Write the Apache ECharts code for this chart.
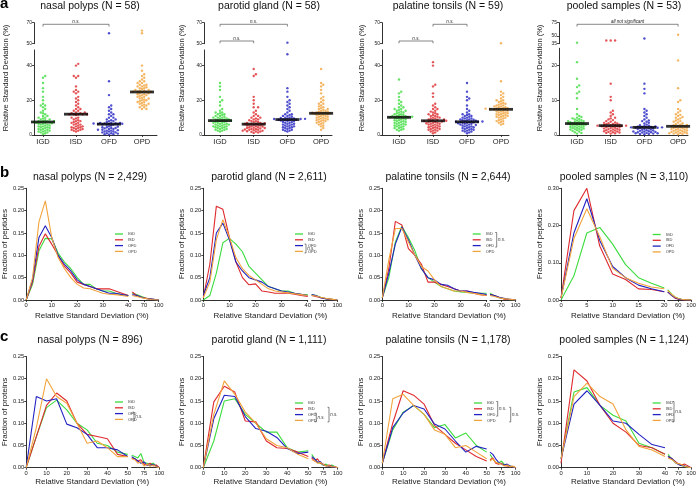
<!DOCTYPE html>
<html><head><meta charset="utf-8">
<script src="https://cdn.jsdelivr.net/npm/echarts@6/dist/echarts.min.js"></script>
<style>html,body{margin:0;padding:0;background:#fff}#c{width:699px;height:488px}</style>
</head><body><div id="c"></div>
<script>
// ---------------- DATA ----------------
const cats = ['IGD','ISD','OFD','OPD'];
const titlesA = ['nasal polyps (N = 58)','parotid gland (N = 58)','palatine tonsils (N = 59)','pooled samples (N = 53)'];
const titlesB = ['nasal polyps (N = 2,429)','parotid gland (N = 2,611)','palatine tonsils (N = 2,644)','pooled samples (N = 3,110)'];
const titlesC = ['nasal polyps (N = 896)','parotid gland (N = 1,111)','palatine tonsils (N = 1,178)','pooled samples (N = 1,124)'];
const yNameA = 'Relative Standard Deviation (%)';
const xNameBC = 'Relative Standard Deviation (%)';
const yNameB = 'Fraction of peptides';
const yNameC = 'Fraction of proteins';

// Row a: relative standard deviation per protein (%)
const a1_IGD = [34,33,30,27,25,22,20,18,17,17,16,15,14,13,12.5,12,11,11,10,10,9.5,9,9,8.5,8,8,8,7.8,7.5,7.5,7.3,7,7,6.8,6.5,6.5,6,6,5.5,5.5,5,5,4.5,4.5,4,4,3.5,3.5,3,3,2.5,2.5,2,2,1.5,1.5,1,0.5];
const a1_ISD = [41,40,34,34,33,28,26,25,25,24,22,21,20,19,18,17,16,15,15,14,14,13,13,12.5,12.5,12,12,12,12,12,11.5,10,10,9.5,9,8.5,8,8,7.5,7,7,6.5,6,6,5.5,5,5,4.5,4.5,4,4,3.5,3.5,3,3,2.5,2.5,2];
const a1_OFD = [60,31,23,17,16,15,14,13,12,12,11,10,10,9,9,8.5,8,8,7.5,7,7,7,6.8,6.7,6.6,6.5,6.5,6.4,6.3,6.2,6,6,5.5,5,4.8,4.5,4.5,4,4,3.8,3.5,3.5,3,3,2.8,2.5,2.5,2,2,2,1.5,1.5,1,1,0.8,0.5,0.5,0.3];
const a1_OPD = [62.5,60,40,37,35,34,33,32,31,31,30,30,29,29,28.5,28,28,27.5,27,27,26.5,26,26,25.5,25.5,25,25,25,24.8,24.8,24,24,23.5,23.5,23,23,22.5,22,22,21.5,21,21,20.5,20,20,19.5,19,19,18.5,18,18,17.5,17,17,16,16,15,15];
const a2_IGD = [30,28,26,22,20,19,17,15,14,13,13,12.5,12,12,11.5,11,11,10.5,10,10,10,9.5,9.5,9,9,9,8.5,8.5,8.3,8.3,8,8,7.5,7.5,7,7,7,6.5,6.5,6,6,6,5.5,5.5,5,5,5,4.5,4.5,4,4,3.5,3.5,3,3,2.5,2.5,2];
const a2_ISD = [38,35,34,22,20,18,16,16,14,13,12,11,11,10,10,9.5,9,9,8.5,8,8,7.5,7.5,7,7,6.8,6.5,6.5,6.3,6.2,6,6,5.8,5.5,5.5,5,5,4.8,4.5,4.5,4.2,4,4,3.8,3.5,3.5,3.2,3,3,2.8,2.5,2.5,2.2,2,2,1.8,1.5,1.2];
const a2_OFD = [51,46.5,27,25,22,20,19,18,17,16,15,14,13,12,12,11.5,11,11,10.5,10,10,9.8,9.5,9.5,9.3,9.2,9.2,9,9,8.8,8.8,8.5,8.5,8.3,8,8,7.5,7.5,7,7,6.5,6.5,6,6,5.5,5.5,5,5,4.5,4.5,4,4,3.5,3,3,2.5,2.5,2];
const a2_OPD = [38,30,29,28,26,24,22,21,20,19,18,18,17,16.5,16,15.5,15,15,14.5,14,14,13.5,13.5,13,13,13,12.8,12.5,12.5,12.5,12.3,12,12,11.5,11.5,11,11,10.5,10.5,10,10,9.5,9.5,9,9,8.5,8.5,8,8,7.5,7,7,6.5,6,5.5,5,4,3];
const a3_IGD = [32,25,24,22,20,19,18,17,16,16,15,15,14.5,14,14,13.5,13,13,12.5,12,12,11.5,11.5,11,11,10.8,10.5,10.5,10.3,10.2,10,10,9.5,9.5,9,9,8.5,8.5,8,8,7.5,7.5,7,7,6.5,6.5,6,6,5.5,5.5,5,5,4.5,4,4,3.5,3,3,2.5];
const a3_ISD = [42,40,29,28,24,22,18,17,16,15,15,14,13.5,13,12.5,12,12,11.5,11,11,10.5,10,10,9.5,9.5,9,9,8.8,8.5,8.2,8,8,7.8,7.5,7.5,7,7,6.8,6.5,6.5,6,6,5.5,5.5,5,5,4.5,4.5,4,4,3.5,3.5,3,3,2.5,2.5,2,1.5,1];
const a3_OFD = [30,25,22,21,20,17,15,14,13,12,12,11.5,11,11,10.5,10,10,9.5,9.5,9,9,8.8,8.5,8.5,8.2,8,8,7.8,7.7,7.6,7.5,7.5,7.3,7,7,6.8,6.5,6.5,6,6,5.8,5.5,5.5,5,5,4.5,4.5,4,4,3.5,3.5,3,3,2.5,2.5,2,2,1.5,1];
const a3_OPD = [50.5,31,25,24,23,22,21,20,20,19.5,19,18.5,18,18,17.5,17,17,16.5,16.5,16,16,15.5,15.5,15.3,15.2,15,15,15,14.8,14.8,14.5,14.5,14,14,13.5,13.5,13,13,12.5,12.5,12,12,11.5,11.5,11,11,10.5,10.5,10,10,9.5,9,8.5,8,8,7.5,7,6.5,6];
const a4_IGD = [37,21,16.2,14.3,13.8,12.5,12,10.6,7.5,6,5.5,5.2,5,4.8,4.6,4.5,4.3,4.2,4,4,3.9,3.8,3.7,3.6,3.5,3.4,3.3,3.3,3.2,3.1,3,3,2.9,2.8,2.7,2.6,2.5,2.4,2.3,2.2,2.1,2,1.9,1.8,1.7,1.6,1.5,1.4,1.2,1,0.8,0.6,0.4];
const a4_ISD = [41,41,41,14.8,11,10,7,6.5,6,5.5,5,4.8,4.5,4.3,4,3.8,3.6,3.5,3.4,3.3,3.2,3.1,3,2.9,2.8,2.8,2.7,2.7,2.6,2.6,2.5,2.5,2.4,2.3,2.2,2.1,2,1.9,1.8,1.7,1.6,1.5,1.4,1.3,1.2,1.1,1,0.9,0.8,0.7,0.6,0.5,0.4];
const a4_OFD = [45,14.8,13.3,12,7.5,7,6.5,6,5.5,5,4.5,4.2,4,3.8,3.5,3.3,3,2.8,2.7,2.6,2.5,2.4,2.3,2.3,2.2,2.2,2.2,2.1,2.1,2,2,1.9,1.8,1.7,1.6,1.5,1.4,1.3,1.2,1.1,1,1,0.9,0.8,0.8,0.7,0.6,0.5,0.5,0.4,0.3,0.3,0.2];
const a4_OPD = [52,21.5,13.5,10,9.5,7.5,7,6.5,6,5.8,5.5,5.2,5,4.8,4.5,4.2,4,3.8,3.6,3.4,3.2,3,2.9,2.8,2.7,2.6,2.5,2.5,2.4,2.3,2.2,2.1,2,1.9,1.8,1.7,1.6,1.5,1.4,1.3,1.2,1.1,1,0.9,0.8,0.7,0.6,0.6,0.5,0.5,0.4,0.3,0.2];
// row a axis extents and tick labels
const aLowMax = [49,49,49,25];
const aUpRange = [[50,70],[50,70],[50,70],[35,75]];
const aTicksLow = [[0,20,40],[0,20,40],[0,20,40],[0,10,20]];
const aTicksUp = [[50,70],[50,70],[50,70],[35,50,75]];
// significance brackets [from, to, level(hi/lo), text]
const aSig = [
  [[0,2,'hi','n.s.']],
  [[0,2,'hi','n.s.'],[0,1,'lo','n.s.']],
  [[0,1,'lo','n.s.'],[1,2,'hi','n.s.']],
  [[0,3,'hi','all not significant']]
];

// Row b: fraction of peptides vs RSD (%)
const xB  = [0,2.5,5,7.5,10,12.5,15,17.5,20,22.5,25,27.5,30,32.5,35,37.5,40];
const xB4 = [0,2.5,5,7.5,10,12.5,15,17.5,20];
const xBR  = [46,55,65,75,85,100];
const xB4R = [27,40,50,60,70,80,100];
const b1_IGD = [0,0.035,0.11,0.138,0.137,0.105,0.085,0.07,0.05,0.035,0.035,0.025,0.02,0.02,0.015,0.012,0.01];
const b1_ISD = [0,0.04,0.12,0.148,0.125,0.1,0.075,0.06,0.04,0.035,0.03,0.025,0.025,0.025,0.02,0.015,0.01];
const b1_OFD = [0,0.045,0.14,0.166,0.14,0.1,0.08,0.065,0.045,0.035,0.03,0.025,0.02,0.015,0.015,0.012,0.01];
const b1_OPD = [0,0.05,0.175,0.222,0.14,0.095,0.07,0.05,0.035,0.027,0.025,0.02,0.015,0.013,0.012,0.01,0.008];
const b2_IGD = [0,0.01,0.06,0.128,0.138,0.125,0.108,0.075,0.06,0.045,0.03,0.025,0.02,0.02,0.015,0.013,0.012];
const b2_ISD = [0.005,0.08,0.21,0.203,0.14,0.085,0.05,0.034,0.036,0.02,0.018,0.015,0.015,0.015,0.013,0.01,0.008];
const b2_OFD = [0.01,0.05,0.15,0.172,0.135,0.085,0.065,0.05,0.045,0.04,0.03,0.025,0.02,0.018,0.015,0.013,0.01];
const b2_OPD = [0.005,0.04,0.135,0.18,0.14,0.095,0.07,0.055,0.045,0.035,0.025,0.02,0.018,0.016,0.014,0.012,0.01];
const b3_IGD = [0.005,0.05,0.13,0.165,0.14,0.11,0.07,0.05,0.04,0.03,0.025,0.02,0.018,0.017,0.015,0.015,0.015];
const b3_ISD = [0.005,0.07,0.176,0.168,0.115,0.1,0.08,0.04,0.04,0.035,0.03,0.025,0.02,0.02,0.015,0.012,0.01];
const b3_OFD = [0.005,0.06,0.125,0.163,0.135,0.1,0.07,0.05,0.045,0.035,0.033,0.025,0.02,0.02,0.017,0.015,0.012];
const b3_OPD = [0.005,0.09,0.16,0.16,0.13,0.1,0.075,0.065,0.045,0.03,0.025,0.02,0.02,0.017,0.015,0.012,0.01];
const b4_IGD = [0,0.065,0.18,0.195,0.15,0.095,0.06,0.045,0.032];
const b4_ISD = [0.005,0.24,0.3,0.145,0.07,0.055,0.03,0.028,0.022];
const b4_OFD = [0.005,0.18,0.272,0.16,0.09,0.06,0.04,0.03,0.022];
const b4_OPD = [0.005,0.165,0.245,0.17,0.085,0.06,0.045,0.035,0.03];
const b1r_IGD = [0.015,0.012,0.008,0.004,0.002,0];
const b1r_ISD = [0.018,0.01,0.006,0.004,0.002,0];
const b1r_OFD = [0.012,0.01,0.006,0.003,0.002,0];
const b1r_OPD = [0.01,0.008,0.005,0.003,0.001,0];
const b2r_IGD = [0.012,0.01,0.006,0.003,0.002,0];
const b2r_ISD = [0.01,0.008,0.005,0.003,0.002,0];
const b2r_OFD = [0.012,0.01,0.005,0.003,0.001,0];
const b2r_OPD = [0.01,0.009,0.006,0.004,0.002,0];
const b3r_IGD = [0.015,0.01,0.005,0.003,0.001,0];
const b3r_ISD = [0.012,0.01,0.006,0.002,0.001,0];
const b3r_OFD = [0.012,0.01,0.006,0.004,0.002,0];
const b3r_OPD = [0.01,0.008,0.005,0.003,0.002,0];
const b4r_IGD = [0.028,0.015,0.008,0.004,0.002,0.001,0];
const b4r_ISD = [0.022,0.012,0.005,0.002,0.001,0,0];
const b4r_OFD = [0.022,0.012,0.006,0.003,0.001,0,0];
const b4r_OPD = [0.026,0.014,0.008,0.004,0.002,0.001,0];

// Row c: fraction of proteins vs RSD (%)
const xC  = [0,5,10,15,20,25,30,35,40,45,50];
const xC4 = [0,5,10,15,20,25,30,35,40];
const xCR  = [55,60,65,70,75,80,85,90,95,100];
const xC4R = [45,55,65,75,85,100];
const c1_IGD = [0,0.07,0.135,0.152,0.13,0.1,0.085,0.055,0.05,0.035,0.03];
const c1_ISD = [0,0.07,0.14,0.168,0.15,0.1,0.075,0.07,0.065,0.03,0.025];
const c1_OFD = [0,0.16,0.15,0.155,0.098,0.09,0.075,0.045,0.045,0.04,0.025];
const c1_OPD = [0,0.09,0.2,0.16,0.145,0.1,0.055,0.06,0.045,0.025,0.025];
const c2_IGD = [0,0.06,0.15,0.155,0.12,0.1,0.08,0.08,0.045,0.035,0.038];
const c2_ISD = [0,0.148,0.183,0.17,0.105,0.103,0.06,0.045,0.043,0.035,0.025];
const c2_OFD = [0,0.11,0.163,0.16,0.115,0.088,0.082,0.068,0.043,0.032,0.035];
const c2_OPD = [0,0.12,0.195,0.165,0.125,0.1,0.065,0.05,0.045,0.03,0.02];
const c3_IGD = [0.01,0.085,0.125,0.14,0.12,0.09,0.097,0.067,0.078,0.05,0.035];
const c3_ISD = [0.01,0.1,0.173,0.163,0.143,0.095,0.075,0.055,0.04,0.025,0.015];
const c3_OFD = [0.01,0.09,0.123,0.14,0.132,0.098,0.087,0.06,0.035,0.048,0.042];
const c3_OPD = [0.01,0.155,0.165,0.14,0.12,0.085,0.075,0.045,0.05,0.035,0.02];
const c4_IGD = [0.02,0.17,0.18,0.14,0.118,0.105,0.055,0.045,0.03];
const c4_ISD = [0.01,0.22,0.195,0.14,0.1,0.08,0.05,0.045,0.03];
const c4_OFD = [0.02,0.143,0.173,0.14,0.105,0.1,0.075,0.052,0.045];
const c4_OPD = [0.02,0.16,0.19,0.16,0.143,0.085,0.048,0.04,0.025];
const c1r_IGD = [0.028,0.025,0.022,0.032,0.012,0.01,0.008,0.01,0.004,0];
const c1r_ISD = [0.022,0.02,0.015,0.018,0.008,0.006,0.01,0.004,0.006,0];
const c1r_OFD = [0.025,0.02,0.015,0.01,0.013,0.006,0.005,0.008,0.003,0];
const c1r_OPD = [0.02,0.018,0.01,0.014,0.004,0.008,0.003,0.006,0.002,0];
const c2r_IGD = [0.03,0.02,0.012,0.01,0.006,0.008,0.004,0.006,0.002,0];
const c2r_ISD = [0.022,0.015,0.02,0.01,0.008,0.004,0.006,0.003,0.002,0];
const c2r_OFD = [0.025,0.02,0.012,0.014,0.006,0.005,0.003,0.003,0.001,0];
const c2r_OPD = [0.018,0.016,0.01,0.012,0.007,0.004,0.004,0.002,0.002,0];
const c3r_IGD = [0.03,0.02,0.012,0.01,0.015,0.008,0.005,0.004,0.002,0];
const c3r_ISD = [0.018,0.022,0.01,0.008,0.01,0.005,0.004,0.003,0.002,0];
const c3r_OFD = [0.035,0.03,0.02,0.012,0.008,0.006,0.008,0.004,0.002,0];
const c3r_OPD = [0.015,0.02,0.012,0.01,0.008,0.004,0.006,0.002,0.004,0];
const c4r_IGD = [0.03,0.018,0.01,0.006,0.003,0];
const c4r_ISD = [0.025,0.02,0.012,0.006,0.008,0];
const c4r_OFD = [0.025,0.02,0.01,0.005,0.004,0];
const c4r_OPD = [0.022,0.018,0.01,0.008,0.003,0];

// axis extents & tick labels for rows b/c
const bLeftMax = [40,40,40,20], bLeftInt = [10,10,10,5];
const bRightRange = [[46,100],[46,100],[46,100],[27,100]];
const bRightTicks = [[70,100],[70,100],[70,100],[60,100]];
const bYMax = [0.25,0.25,0.25,0.30], bYInt = [0.05,0.05,0.05,0.10];
const cLeftMax = [50,50,50,40], cLeftInt = [10,10,10,10];
const cRightRange = [[55,100],[55,100],[55,100],[45,100]];
const cRightTicks = [[75,100],[75,100],[75,100],[70,100]];
const cYMax = [0.25,0.25,0.25,0.25], cYInt = [0.05,0.05,0.05,0.05];
// legend brackets: [fromRow, toRow]
const bBr = [[], [[2,3]], [[0,2]], []];
const cBr = [[[2,3]], [[2,3],[1,3]], [[0,2],[1,3]], [[0,3]]];

// ---------------- LAYOUT / STYLE ----------------
const colors = {IGD:'#3ddc3d', ISD:'#df2a2e', OFD:'#2222c2', OPD:'#f2a43c'};
const FONT = 'Liberation Sans, Arial, Helvetica, sans-serif';
const INK = '#1a1a1a';
const layA = [{ax:34,c0:43,sp:33,end:157},{ax:204,c0:220,sp:33.7,end:332},{ax:382,c0:399,sp:34,end:509},{ax:559,c0:577,sp:33.7,end:688}];
const aPpu = [1.735,1.735,1.735,3.47];
const A_BASE = 135, A_UPTOP = 22.7, A_UPH = 21;
const layB = [{L:25,Lw:103.3,R:132.3,Rw:26.4},{L:203.3,Lw:104.4,R:311.7,Rw:25.6},{L:382.3,Lw:104.4,R:490,Rw:25.7},{L:561,Lw:103.3,R:667.7,Rw:27.3}];
const layC = [{L:25,Lw:102.7,R:131.7,Rw:27.6},{L:203.3,Lw:105,R:311.7,Rw:26},{L:382.3,Lw:104.4,R:490,Rw:25.7},{L:561,Lw:104,R:668,Rw:27}];
const titleCx = [90,269,448,624];

const grids=[], xAxes=[], yAxes=[], series=[], graphics=[], titles=[], legends=[];
function addGrid(g){ grids.push(Object.assign({containLabel:false}, g)); return grids.length-1; }
const axisLine = () => ({show:true, onZero:false, lineStyle:{color:INK, width:0.9}});
const tickSt = (vals) => Object.assign({show:true, length:2, inside:false, lineStyle:{color:INK, width:0.8}}, vals?{customValues:vals}:{});
const lblSt = (size, extra) => Object.assign({color:INK, fontFamily:FONT, fontSize:size, margin:2}, extra||{});
function median(a){const s=[...a].sort((x,y)=>x-y);const n=s.length;return n%2?s[(n-1)/2]:(s[n/2-1]+s[n/2])/2;}
function swarm(vals, ppu, d){
  const order = vals.map((v,i)=>i).sort((a,b)=>vals[a]-vals[b]);
  const placed=[]; const off=vals.map(()=>0);
  for(const i of order){
    const py=vals[i]*ppu;
    for(let k=0;k<100;k++){
      const m = k===0?0:(k%2?(k+1)/2:-k/2);
      const ox = m*d*0.9;
      if(placed.every(p=>(p.ox-ox)*(p.ox-ox)+(p.py-py)*(p.py-py) >= d*d*0.9)){off[i]=ox;placed.push({ox,py});break;}
    }
  }
  return off;
}
function gtext(x,y,text,font,opts){
  graphics.push(Object.assign({type:'text', x, y, silent:true, style:{text, font, fill:INK, align:'center', verticalAlign:'middle', textAlign:'center', textVerticalAlign:'middle'}}, opts||{}));
}

// ---------- Panel letters & titles ----------
[['a',-4],['b',165],['c',329.5]].forEach(([t,top])=>titles.push({text:t,left:0,top,padding:0,textStyle:{fontSize:15,fontWeight:'bold',color:'#000',fontFamily:FONT}}));
[[titlesA,1],[titlesB,171.5],[titlesC,335]].forEach(([arr,top])=>arr.forEach((t,i)=>titles.push({text:t,left:titleCx[i],top,textAlign:'center',padding:0,textStyle:{fontSize:10.5,fontWeight:'normal',color:'#111',fontFamily:FONT}})));

// ---------- Row a ----------
const aGroups = [[a1_IGD,a1_ISD,a1_OFD,a1_OPD],[a2_IGD,a2_ISD,a2_OFD,a2_OPD],[a3_IGD,a3_ISD,a3_OFD,a3_OPD],[a4_IGD,a4_ISD,a4_OFD,a4_OPD]];
const aYNameX = [5.5,182,361.5,540];
for(let p=0;p<4;p++){
  const L=layA[p], ppu=aPpu[p];
  const xmin=-(L.c0-L.ax)/L.sp, xmax=xmin+(L.end-L.ax)/L.sp;
  const lowH=aLowMax[p]*ppu;
  const gl=addGrid({left:L.ax, top:A_BASE-lowH, width:L.end-L.ax, height:lowH});
  xAxes.push({gridIndex:gl,type:'value',min:xmin,max:xmax,axisLine:axisLine(),axisTick:tickSt([0,1,2,3]),
    axisLabel:lblSt(7.5,{customValues:[0,1,2,3],margin:3,formatter:v=>cats[Math.round(v)]}),splitLine:{show:false}});
  yAxes.push({gridIndex:gl,type:'value',min:0,max:aLowMax[p],axisLine:axisLine(),axisTick:tickSt(aTicksLow[p]),
    axisLabel:lblSt(5,{customValues:aTicksLow[p]}),splitLine:{show:false}});
  const up=aUpRange[p];
  const gu=addGrid({left:L.ax, top:A_UPTOP, width:L.end-L.ax, height:A_UPH});
  xAxes.push({gridIndex:gu,type:'value',min:xmin,max:xmax,show:false});
  yAxes.push({gridIndex:gu,type:'value',min:up[0],max:up[1],axisLine:axisLine(),axisTick:tickSt(aTicksUp[p]),
    axisLabel:lblSt(5,{customValues:aTicksUp[p]}),splitLine:{show:false}});
  const ppuUp=A_UPH/(up[1]-up[0]);
  aGroups[p].forEach((vals,g)=>{
    const lo=vals.filter(v=>v<=aLowMax[p]), hi=vals.filter(v=>v>aLowMax[p]);
    const oL=swarm(lo,ppu,2.45), oH=swarm(hi.map(v=>v-up[0]),ppuUp,2.45);
    const st={type:'scatter',symbol:'circle',symbolSize:2.4,itemStyle:{color:colors[cats[g]]},silent:true,z:2};
    series.push(Object.assign({},st,{name:cats[g]+' a'+(p+1),xAxisIndex:gl,yAxisIndex:gl,data:lo.map((v,i)=>[g+oL[i]/L.sp,v])}));
    if(hi.length) series.push(Object.assign({},st,{name:cats[g]+' a'+(p+1)+' hi',xAxisIndex:gu,yAxisIndex:gu,data:hi.map((v,i)=>[g+oH[i]/L.sp,v])}));
    series.push({type:'scatter',name:'median a'+(p+1)+cats[g],xAxisIndex:gl,yAxisIndex:gl,symbol:'rect',symbolSize:[24,2.8],itemStyle:{color:'#000'},z:5,silent:true,data:[[g,median(vals)]]});
  });
  aSig[p].forEach(([f,t,lvl,txt])=>{
    const yb = lvl==='hi'?24.3:41;
    const vb = up[1]-(yb-A_UPTOP)/A_UPH*(up[1]-up[0]);
    const vl = up[1]-(yb+2.3-A_UPTOP)/A_UPH*(up[1]-up[0]);
    series.push({type:'line',name:'sig',xAxisIndex:gu,yAxisIndex:gu,symbol:'none',clip:false,silent:true,
      lineStyle:{color:'#555',width:0.7},data:[[f,vl],[f,vb],[t,vb],[t,vl]]});
    gtext(L.ax+((f+t)/2-xmin)*L.sp, yb-2.6, txt, 'italic 4.5px '+FONT);
  });
  gtext(aYNameX[p], 78, yNameA, '7.5px '+FONT, {rotation:Math.PI/2});
}

// ---------- Rows b, c ----------
const bL = [[b1_IGD,b1_ISD,b1_OFD,b1_OPD],[b2_IGD,b2_ISD,b2_OFD,b2_OPD],[b3_IGD,b3_ISD,b3_OFD,b3_OPD],[b4_IGD,b4_ISD,b4_OFD,b4_OPD]];
const bR = [[b1r_IGD,b1r_ISD,b1r_OFD,b1r_OPD],[b2r_IGD,b2r_ISD,b2r_OFD,b2r_OPD],[b3r_IGD,b3r_ISD,b3r_OFD,b3r_OPD],[b4r_IGD,b4r_ISD,b4r_OFD,b4r_OPD]];
const cL = [[c1_IGD,c1_ISD,c1_OFD,c1_OPD],[c2_IGD,c2_ISD,c2_OFD,c2_OPD],[c3_IGD,c3_ISD,c3_OFD,c3_OPD],[c4_IGD,c4_ISD,c4_OFD,c4_OPD]];
const cR = [[c1r_IGD,c1r_ISD,c1r_OFD,c1r_OPD],[c2r_IGD,c2r_ISD,c2r_OFD,c2r_OPD],[c3r_IGD,c3r_ISD,c3r_OFD,c3r_OPD],[c4r_IGD,c4r_ISD,c4r_OFD,c4r_OPD]];
const rows = [
  {lay:layB, top:188.3, h:111.7, xl:[xB,xB,xB,xB4], xr:[xBR,xBR,xBR,xB4R], L:bL, R:bR, lmax:bLeftMax, lint:bLeftInt, rr:bRightRange, rt:bRightTicks, ymax:bYMax, yint:bYInt, yname:yNameB, xnameY:315.8,
   leg:[[115,231.5],[295,231.5],[472.7,231.5],[652.7,232]], br:bBr, brX:[[],[306],[496.7],[]]},
  {lay:layC, top:356.5, h:111.2, xl:[xC,xC,xC,xC4], xr:[xCR,xCR,xCR,xC4R], L:cL, R:cR, lmax:cLeftMax, lint:cLeftInt, rr:cRightRange, rt:cRightTicks, ymax:cYMax, yint:cYInt, yname:yNameC, xnameY:481.5,
   leg:[[115,399.5],[295,400.5],[474,400.5],[652.7,400.5]], br:cBr, brX:[[134],[316.3,329],[497.7,510.7],[674]]}
];
const PITCH = 5.8;
rows.forEach(r=>{
  for(let p=0;p<4;p++){
    const L=r.lay[p];
    const gl=addGrid({left:L.L, top:r.top, width:L.Lw, height:r.h});
    xAxes.push({gridIndex:gl,type:'value',min:0,max:r.lmax[p],interval:r.lint[p],axisLine:axisLine(),axisTick:tickSt(),axisLabel:lblSt(5.8,{margin:2.5}),splitLine:{show:false}});
    yAxes.push({gridIndex:gl,type:'value',min:0,max:r.ymax[p],interval:r.yint[p],axisLine:axisLine(),axisTick:tickSt(),
      axisLabel:lblSt(5.8,{formatter:v=>v.toFixed(2)}),splitLine:{show:false},
      name:r.yname,nameLocation:'middle',nameGap:16,nameTextStyle:{fontSize:8,color:INK,fontFamily:FONT}});
    const gr=addGrid({left:L.R, top:r.top, width:L.Rw, height:r.h});
    xAxes.push({gridIndex:gr,type:'value',min:r.rr[p][0],max:r.rr[p][1],axisLine:axisLine(),axisTick:tickSt(r.rt[p]),
      axisLabel:lblSt(5.8,{customValues:r.rt[p],margin:2.5}),splitLine:{show:false}});
    yAxes.push({gridIndex:gr,type:'value',min:0,max:r.ymax[p],show:false});
    cats.forEach((c,g)=>{
      const st={type:'line',name:c,symbol:'none',silent:true,smooth:false,lineStyle:{width:1.1,color:colors[c]},itemStyle:{color:colors[c]},z:2+g};
      series.push(Object.assign({},st,{xAxisIndex:gl,yAxisIndex:gl,data:r.xl[p].map((x,i)=>[x,r.L[p][g][i]])}));
      series.push(Object.assign({},st,{xAxisIndex:gr,yAxisIndex:gr,data:r.xr[p].map((x,i)=>[x,r.R[p][g][i]])}));
    });
    gtext((L.L+L.R+L.Rw)/2, r.xnameY, xNameBC, '8px '+FONT);
    const [lx,ly]=r.leg[p];
    legends.push({left:lx,top:ly,orient:'vertical',padding:0,itemGap:0.8,itemWidth:8,itemHeight:1.3,icon:'rect',selectedMode:false,
      textStyle:{fontSize:4,lineHeight:5,color:'#333',fontFamily:FONT},data:cats.slice()});
    r.br[p].forEach(([a,b],k)=>{
      const bx=r.brX[p][k];
      const y0=ly+a*PITCH+2.5-1.5, y1=ly+b*PITCH+2.5+1.5;
      graphics.push({type:'polyline',silent:true,shape:{points:[[bx-1.5,y0],[bx,y0],[bx,y1],[bx-1.5,y1]]},style:{stroke:'#333',lineWidth:0.6,fill:null}});
      graphics.push({type:'text',x:bx+1.2,y:(y0+y1)/2,silent:true,style:{text:'n.s.',font:'italic 4.5px '+FONT,fill:'#333',align:'left',verticalAlign:'middle',textAlign:'left',textVerticalAlign:'middle'}});
    });
  }
});

const chart = echarts.init(document.getElementById('c'), null, {renderer:'canvas'});
chart.setOption({animation:false, backgroundColor:'#fff', title:titles, grid:grids, xAxis:xAxes, yAxis:yAxes, series, legend:legends, graphic:{elements:graphics}});
</script>
</body></html>
